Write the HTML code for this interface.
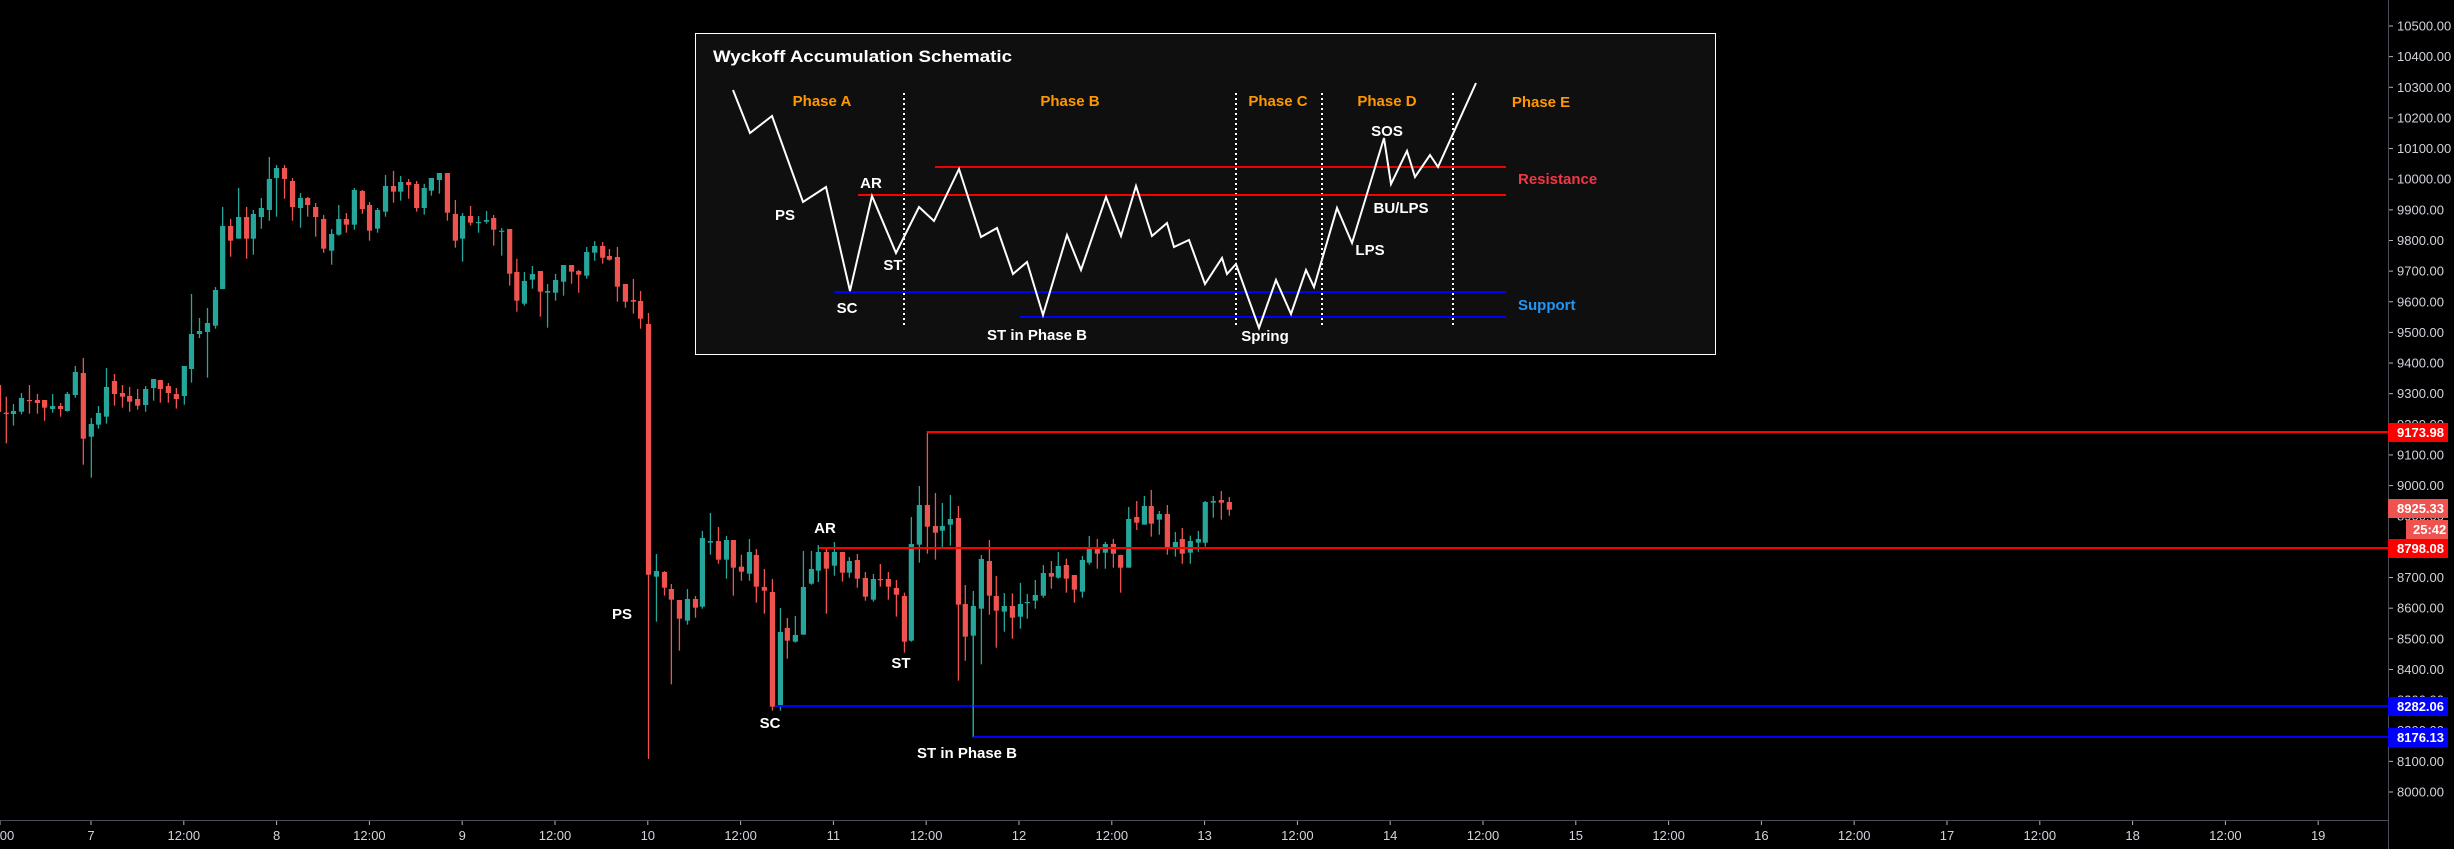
<!DOCTYPE html>
<html><head><meta charset="utf-8"><style>
html,body{margin:0;padding:0;background:#000;width:2454px;height:849px;overflow:hidden}
svg{display:block}
text{font-family:"Liberation Sans","DejaVu Sans",sans-serif}
</style></head><body>
<svg id="s" width="2454" height="849" viewBox="0 0 2454 849" xmlns="http://www.w3.org/2000/svg">
<rect width="2454" height="849" fill="#000"/>
<g id="candles"></g>
<!-- level lines -->
<line x1="927" y1="432" x2="2388" y2="432" stroke="#ff0000" stroke-width="2"/>
<line x1="819" y1="548" x2="2388" y2="548" stroke="#ff0000" stroke-width="2"/>
<line x1="775" y1="706" x2="2388" y2="706" stroke="#0000ff" stroke-width="2"/>
<line x1="973" y1="737" x2="2388" y2="737" stroke="#0000ff" stroke-width="2"/>
<line x1="973" y1="600" x2="973" y2="737" stroke="#26a69a" stroke-width="1"/>
<!-- chart labels -->
<g fill="#fff" font-weight="bold" font-size="15" text-anchor="middle">
<text x="622" y="619">PS</text>
<text x="825" y="533">AR</text>
<text x="901" y="668">ST</text>
<text x="770" y="728">SC</text>
<text x="967" y="758">ST in Phase B</text>
</g>
<!-- schematic -->
<rect x="695.5" y="33.5" width="1020" height="321" fill="#0f0f0f" stroke="#fff" stroke-width="1"/>
<text x="713" y="62" fill="#fff" font-weight="bold" font-size="17" textLength="299" lengthAdjust="spacingAndGlyphs">Wyckoff Accumulation Schematic</text>
<g fill="#ff9800" font-weight="bold" font-size="15" text-anchor="middle">
<text x="822" y="106">Phase A</text>
<text x="1070" y="106">Phase B</text>
<text x="1278" y="106">Phase C</text>
<text x="1387" y="106">Phase D</text>
<text x="1541" y="107">Phase E</text>
</g>
<g stroke="#fff" stroke-width="2" stroke-dasharray="2,3">
<line x1="904" y1="93" x2="904" y2="328"/>
<line x1="1236" y1="93" x2="1236" y2="328"/>
<line x1="1322" y1="93" x2="1322" y2="328"/>
<line x1="1453" y1="93" x2="1453" y2="328"/>
</g>
<line x1="935" y1="167" x2="1506" y2="167" stroke="#ee0000" stroke-width="2"/>
<line x1="858" y1="195" x2="1506" y2="195" stroke="#ff0000" stroke-width="2"/>
<line x1="834" y1="292" x2="1506" y2="292" stroke="#0000ff" stroke-width="2"/>
<line x1="1020" y1="317" x2="1506" y2="317" stroke="#0000ff" stroke-width="2"/>
<polyline fill="none" stroke="#fff" stroke-width="2" points="733,90 750,133 772,116 803,202 826,187 850,291 872,196 896,253 919,207 934,221 959,169 981,237 997,228 1013,274 1027,262 1043,315 1067,235 1081,270 1106,197 1121,236 1136,186 1152,236 1167,223 1174,247 1189,240 1205,284 1222,258 1227,274 1236,264 1259,328 1276,280 1291,314 1306,270 1314,287 1337,208 1352,243 1384,138 1391,184 1407,151 1415,177 1430,155 1438,167 1476,83"/>
<text x="1518" y="184" fill="#f23645" font-weight="bold" font-size="15">Resistance</text>
<text x="1518" y="310" fill="#2196f3" font-weight="bold" font-size="15">Support</text>
<g fill="#fff" font-weight="bold" font-size="15" text-anchor="middle">
<text x="785" y="220">PS</text>
<text x="871" y="188">AR</text>
<text x="893" y="270">ST</text>
<text x="847" y="313">SC</text>
<text x="1037" y="340">ST in Phase B</text>
<text x="1265" y="341">Spring</text>
<text x="1387" y="136">SOS</text>
<text x="1401" y="213">BU/LPS</text>
<text x="1370" y="255">LPS</text>
</g>
<!-- axes -->
<line x1="0" y1="820.5" x2="2388" y2="820.5" stroke="#4a4e58" stroke-width="1"/>
<line x1="2388.5" y1="0" x2="2388.5" y2="849" stroke="#4a4e58" stroke-width="1"/>
<g id="pax" fill="#d1d4dc" font-size="13"></g>
<g id="tax" fill="#d1d4dc" font-size="13" text-anchor="middle"></g>
<!-- tags -->
<g font-size="13" font-weight="bold" fill="#fff">
<rect x="2388" y="423" width="60" height="19" fill="#ff0000"/><text x="2397" y="437">9173.98</text>
<rect x="2388" y="499" width="60" height="19" fill="#ef5350"/><text x="2397" y="513">8925.33</text>
<rect x="2406" y="520" width="42" height="19" fill="#ef5350"/><text x="2413" y="534">25:42</text>
<rect x="2388" y="539" width="60" height="19" fill="#ff0000"/><text x="2397" y="553">8798.08</text>
<rect x="2388" y="697" width="60" height="19" fill="#0000ff"/><text x="2397" y="711">8282.06</text>
<rect x="2388" y="728" width="60" height="19" fill="#0000ff"/><text x="2397" y="742">8176.13</text>
</g>
</svg>
<script>
(function(){
var NS="http://www.w3.org/2000/svg";
var g=document.getElementById('candles');
function el(n,a,p){var e=document.createElementNS(NS,n);for(var k in a)e.setAttribute(k,a[k]);(p||g).appendChild(e);return e;}
function C(x,col,bt,bb,wt,wb){
  var c=col=='g'?'#26a69a':'#ef5350';
  el('line',{x1:x,y1:wt,x2:x,y2:wb,stroke:c,'stroke-width':1.3});
  el('rect',{x:x-2.6,y:bt,width:5.2,height:Math.max(1.2,bb-bt),fill:c});
}
var A=[[15,'r',818,822,770,910],[32,'g',813,822,792,857],[51,'g',774,815,759,823],[70,'r',780,783,735,821],[89,'r',780,789,762,821],[106,'r',780,803,780,842],[125,'g',798,807,762,818],[144,'r',798,807,789,830],[160,'g',762,813,756,815],[179,'g',696,765,678,773],[198,'r',699,896,654,974],[217,'g',852,890,834,1013],[234,'g',819,854,798,866],[253,'g',741,830,684,851],[272,'r',723,762,702,797],[291,'r',759,770,735,803],[308,'r',768,785,741,815],[327,'r',777,797,747,809],[346,'g',747,795,738,815],[365,'g',717,744,717,782],[381,'r',720,747,720,788],[400,'r',738,759,729,788],[419,'r',762,777,744,806],[438,'g',678,768,678,794],[455,'g',582,687,462,728],[474,'g',573,582,534,594],[493,'g',549,576,504,713],[512,'g',450,557,441,566],[529,'g',258,447,201,447],[548,'r',258,302,237,350],[567,'g',231,296,144,296],[586,'r',231,296,201,356],[602,'g',222,296,210,344],[621,'g',204,231,174,266],[640,'g',117,210,51,242],[657,'g',84,114,75,230],[676,'r',84,117,75,176],[695,'r',123,201,114,242],[714,'g',174,204,159,263],[731,'r',174,195,171,230],[750,'r',201,231,189,290],[769,'r',237,326,225,338],[788,'g',282,332,267,374],[805,'g',237,284,195,287],[823,'r',237,254,219,278],[842,'g',150,254,144,269],[861,'r',153,207,150,221],[878,'r',195,272,186,302],[897,'g',210,266,204,278],[916,'g',138,215,105,230],[935,'r',138,155,93,188],[952,'g',126,155,108,182],[971,'r',126,135,117,176],[990,'r',132,204,123,215],[1008,'g',144,204,132,224],[1025,'g',114,152,114,167],[1044,'g',99,120,99,161],[1063,'r',99,218,99,242],[1082,'r',222,302,180,323],[1099,'g',228,296,219,365],[1118,'r',228,248,198,257],[1137,'g',246,248,228,278],[1156,'g',240,245,213,251],[1173,'r',234,269,225,317],[1192,'g',272,274,264,347],[1211,'r',267,401,267,437],[1228,'r',396,482,356,515],[1246,'g',423,491,396,497],[1265,'g',402,419,378,446],[1284,'r',393,455,393,530],[1301,'g',453,458,432,563],[1320,'g',420,458,402,482],[1339,'g',375,425,375,467],[1358,'r',375,395,375,431],[1375,'r',393,404,390,458],[1394,'g',336,407,321,416],[1413,'g',318,338,303,362],[1432,'r',318,353,306,371],[1448,'r',348,359,327,362],[1467,'r',351,440,321,485],[1486,'r',432,485,432,503],[1505,'r',480,485,417,521],[1522,'r',483,536,453,566]];
A.forEach(function(d){C(d[0]/2.376,d[1],d[2]/3+140,d[3]/3+140,d[4]/3+140,d[5]/3+140);});
// left partial
el('line',{x1:0.5,y1:385,x2:0.5,y2:412,stroke:'#ef5350','stroke-width':1.3});
// big drop candle
C(648.5,'r',324,574.7,313,759);
var B=[[43,'g',333,350,282,485],[64,'r',336,383,333,407],[82,'r',387,419,372,673],[103,'r',420,476,420,572],[124,'g',417,482,387,494],[145,'r',417,443,408,473],[163,'g',234,440,213,446],[184,'g',243,248,159,284],[205,'r',243,299,201,311],[226,'g',240,299,228,356],[244,'r',240,323,240,407],[265,'r',320,335,284,362],[286,'g',276,341,237,362],[304,'r',285,380,267,428],[325,'r',381,392,327,461],[346,'r',396,740,357,752],[367,'g',516,740,444,752],[385,'r',504,542,474,596],[406,'g',525,545,468,548],[427,'g',381,524,273,524],[448,'g',327,371,273,374],[466,'g',276,332,255,366],[487,'r',276,326,264,461],[508,'g',276,317,246,347],[529,'r',276,338,276,365],[547,'g',303,338,291,353],[568,'r',300,356,282,383],[589,'r',354,410,336,422],[610,'g',357,419,342,425],[628,'r',357,358,312,380],[649,'r',357,380,336,419],[670,'r',384,404,360,470],[691,'r',408,545,398,578],[709,'g',252,542,171,545],[730,'g',135,254,78,308],[751,'r',135,200,-87,281],[772,'r',198,218,99,299],[790,'g',198,212,129,263],[811,'g',177,194,105,257],[832,'r',174,434,138,662],[850,'r',432,530,375,602],[871,'g',438,527,393,832],[892,'g',297,446,285,613],[913,'r',303,407,240,464],[931,'r',408,452,348,563],[952,'g',438,455,399,515],[973,'r',438,473,400,536],[994,'g',432,470,369,506],[1012,'g',426,428,402,476],[1033,'g',405,422,360,446],[1054,'g',339,407,315,413],[1075,'r',339,350,303,386],[1093,'g',318,353,276,356],[1114,'r',315,356,296,398],[1135,'r',345,389,345,428],[1156,'g',300,395,288,413],[1174,'g',267,308,228,314],[1195,'r',264,281,237,326],[1216,'g',252,278,246,326],[1237,'r',252,281,237,323],[1256,'r',285,323,284,398],[1277,'g',177,323,141,323],[1298,'r',171,188,123,210],[1318,'g',138,194,108,194],[1336,'r',138,191,90,230],[1357,'g',162,179,153,224],[1378,'r',162,263,135,284],[1399,'g',246,263,216,290],[1417,'r',237,281,204,311],[1438,'g',243,278,227,311],[1459,'g',237,248,213,275],[1477,'g',126,248,123,260],[1498,'g',123,128,108,173],[1519,'r',120,128,93,179],[1540,'r',126,149,111,167]];
B.forEach(function(d){C(d[0]/2.613+640,d[1],d[2]/3+460,d[3]/3+460,d[4]/3+460,d[5]/3+460);});
// price axis
var pax=document.getElementById('pax');
for(var p=10500;p>=8000;p-=100){
  var y=26+(10500-p)*0.3064;
  el('line',{x1:2389,y1:y,x2:2393,y2:y,stroke:'#b2b5be','stroke-width':1},pax);
  var t=el('text',{x:2397,y:y+4.5},pax);t.textContent=p.toFixed(2);
}
var tax=document.getElementById('tax');
var L=['7','12:00','8','12:00','9','12:00','10','12:00','11','12:00','12','12:00','13','12:00','14','12:00','15','12:00','16','12:00','17','12:00','18','12:00','19'];
var t0=el('text',{x:-2,y:840},tax);t0.textContent='12:00';
el('line',{x1:0,y1:821,x2:0,y2:825,stroke:'#b2b5be'},tax);
for(var i=0;i<L.length;i++){
  var x=91+i*92.8;
  el('line',{x1:x,y1:821,x2:x,y2:825,stroke:'#b2b5be','stroke-width':1},tax);
  var tt=el('text',{x:x,y:840},tax);tt.textContent=L[i];
}
})();
</script>
</body></html>
